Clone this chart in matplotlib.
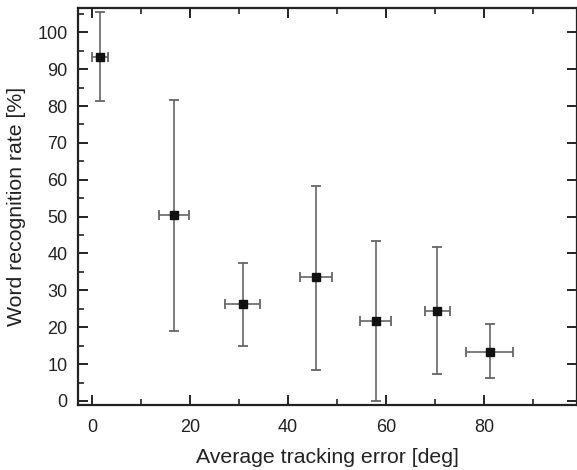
import matplotlib
matplotlib.use("Agg")
import matplotlib.pyplot as plt
from matplotlib.ticker import MultipleLocator

plt.rcParams['font.family'] = ['Liberation Sans', 'DejaVu Sans']

tracking_error = [1.6, 16.7, 30.7, 45.7, 57.9, 70.5, 81.2]
tracking_err_half = [1.6, 3.0, 3.6, 3.3, 3.2, 2.6, 4.8]
recognition_rate = [93.3, 50.3, 26.2, 33.5, 21.8, 24.5, 13.4]
rate_upper = [105.4, 81.7, 37.5, 58.2, 43.5, 41.8, 20.8]
rate_lower = [81.3, 18.9, 14.8, 8.5, 0.0, 7.3, 6.1]

yerr_low = [r - l for r, l in zip(recognition_rate, rate_lower)]
yerr_high = [u - r for u, r in zip(rate_upper, recognition_rate)]

fig = plt.figure(figsize=(5.77, 4.70), dpi=100)
ax = fig.add_axes([78/577, 1-405/470, (577-78)/577, (405-8.3)/470])

ax.errorbar(tracking_error, recognition_rate, xerr=tracking_err_half,
            yerr=[yerr_low, yerr_high], fmt='s', color='#111111',
            markersize=6, ecolor='#666666', elinewidth=1.2, capsize=3.3,
            capthick=1.3)

ax.set_xlim(-2.9, 99)
ax.set_ylim(-1.1, 106.5)
ax.xaxis.set_major_locator(MultipleLocator(20))
ax.xaxis.set_minor_locator(MultipleLocator(10))
ax.yaxis.set_major_locator(MultipleLocator(10))
ax.yaxis.set_minor_locator(MultipleLocator(5))
ax.set_xticks([0, 20, 40, 60, 80])
ax.tick_params(axis='both', which='both', direction='in', labelsize=13, colors='#222222')
ax.tick_params(axis='x', which='both', top=True)
ax.tick_params(axis='y', which='both', right=True)
ax.tick_params(which='major', length=7, width=1.4)
ax.tick_params(which='minor', length=4, width=1.2)
ax.tick_params(axis='y', which='minor', right=False)
ax.tick_params(axis='x', which='major', pad=10)
ax.tick_params(axis='y', which='major', pad=7.5)

for s in ax.spines.values():
    s.set_linewidth(1.6)
    s.set_color('#222222')

ax.set_xlabel('Average tracking error [deg]', fontsize=15.3, color='#222222', labelpad=9)
ax.set_ylabel('Word recognition rate [%]', fontsize=15.3, color='#222222', labelpad=8)

fig.savefig('out.png', dpi=100)
